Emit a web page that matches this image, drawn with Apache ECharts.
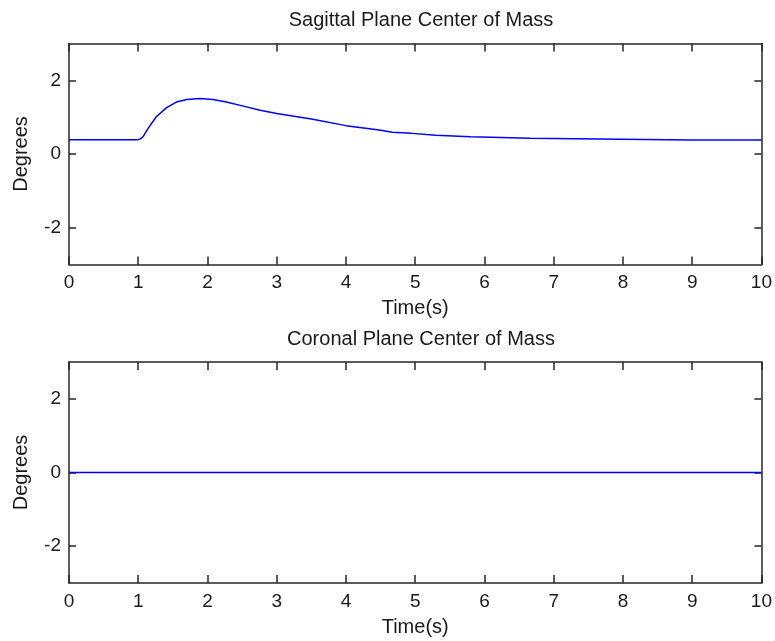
<!DOCTYPE html>
<html>
<head>
<meta charset="utf-8">
<script src="https://cdn.jsdelivr.net/npm/echarts@6/dist/echarts.min.js"></script>
<style>
  html, body { margin: 0; padding: 0; background: #fff; }
  #chart { width: 775px; height: 641px; }
</style>
</head>
<body>
<div id="chart"></div>
<script>
// Sagittal plane centre-of-mass angle (degrees) over time (s)
const sagittalTime = [0, 1.0, 1.03, 1.07, 1.14, 1.26, 1.41, 1.55, 1.70, 1.89, 2.08, 2.27, 2.52, 2.76, 3.0, 3.5, 4.0, 4.48, 4.67, 4.95, 5.3, 5.8, 6.66, 8.97, 10];
const sagittalDeg  = [0.39, 0.39, 0.41, 0.47, 0.69, 1.01, 1.26, 1.41, 1.48, 1.51, 1.48, 1.41, 1.30, 1.19, 1.10, 0.95, 0.77, 0.65, 0.59, 0.56, 0.51, 0.47, 0.43, 0.38, 0.38];

// Coronal plane centre-of-mass angle (degrees) over time (s)
const coronalTime = [0, 10];
const coronalDeg  = [0, 0];

// Axis ticks
const xTicks = [0, 10, 1];      // min, max, step
const yRange = [-3, 3];         // min, max
const yTickValues = [-2, 0, 2]; // labelled ticks

const titles = ['Sagittal Plane Center of Mass', 'Coronal Plane Center of Mass'];
const xName = 'Time(s)';
const yName = 'Degrees';

const FONT = 'Liberation Sans, Arial, sans-serif';
const INK = '#1a1a1a';
const AXIS = '#262626';

function pairs(xs, ys) { return xs.map((x, i) => [x, ys[i]]); }

const grids = [
  { left: 69, top: 43.5, width: 694, height: 221 },
  { left: 69, top: 362, width: 694, height: 221 }
];

const xAxes = [], yAxes = [];
grids.forEach((g, i) => {
  const base = {
    type: 'value', gridIndex: i,
    min: xTicks[0], max: xTicks[1], interval: xTicks[2],
    splitLine: { show: false },
    axisLine: { show: true, onZero: false, lineStyle: { color: AXIS, width: 1.5 } },
    axisTick: { show: true, inside: true, length: 8, lineStyle: { color: AXIS, width: 1.5 } }
  };
  xAxes.push(Object.assign({}, base, {
    position: 'bottom',
    name: xName, nameLocation: 'middle', nameGap: 34,
    nameTextStyle: { fontFamily: FONT, fontSize: 20, color: INK },
    axisLabel: { show: true, margin: 9, fontFamily: FONT, fontSize: 19, color: INK,
      showMinLabel: true, showMaxLabel: true }
  }));
  xAxes.push(Object.assign({}, base, { position: 'top', axisLabel: { show: false } }));

  const ybase = {
    type: 'value', gridIndex: i,
    min: yRange[0], max: yRange[1],
    splitLine: { show: false },
    axisLine: { show: true, onZero: false, lineStyle: { color: AXIS, width: 1.5 } },
    axisTick: { show: true, inside: true, length: 7, lineStyle: { color: AXIS, width: 1.5 },
      customValues: yTickValues }
  };
  yAxes.push(Object.assign({}, ybase, {
    position: 'left',
    name: yName, nameLocation: 'middle', nameGap: 38,
    nameTextStyle: { fontFamily: FONT, fontSize: 20, color: INK },
    axisLabel: { show: true, margin: 8, fontFamily: FONT, fontSize: 19, color: INK,
      customValues: yTickValues }
  }));
  yAxes.push(Object.assign({}, ybase, { position: 'right', axisLabel: { show: false } }));
});

const chart = echarts.init(document.getElementById('chart'), null, { renderer: 'canvas' });
chart.setOption({
  backgroundColor: '#ffffff',
  animation: false,
  title: [
    { text: titles[0], left: 416, top: 5, textAlign: 'center',
      textStyle: { fontFamily: FONT, fontSize: 20, fontWeight: 'normal', color: INK } },
    { text: titles[1], left: 416, top: 324, textAlign: 'center',
      textStyle: { fontFamily: FONT, fontSize: 20, fontWeight: 'normal', color: INK } }
  ],
  grid: grids,
  xAxis: xAxes,
  yAxis: yAxes,
  series: [
    { type: 'line', xAxisIndex: 0, yAxisIndex: 0, data: pairs(sagittalTime, sagittalDeg),
      showSymbol: false, lineStyle: { color: '#0000ff', width: 1.5 } },
    { type: 'line', xAxisIndex: 2, yAxisIndex: 2, data: pairs(coronalTime, coronalDeg),
      showSymbol: false, lineStyle: { color: '#0000ff', width: 1.5 } }
  ]
});
</script>
</body>
</html>
